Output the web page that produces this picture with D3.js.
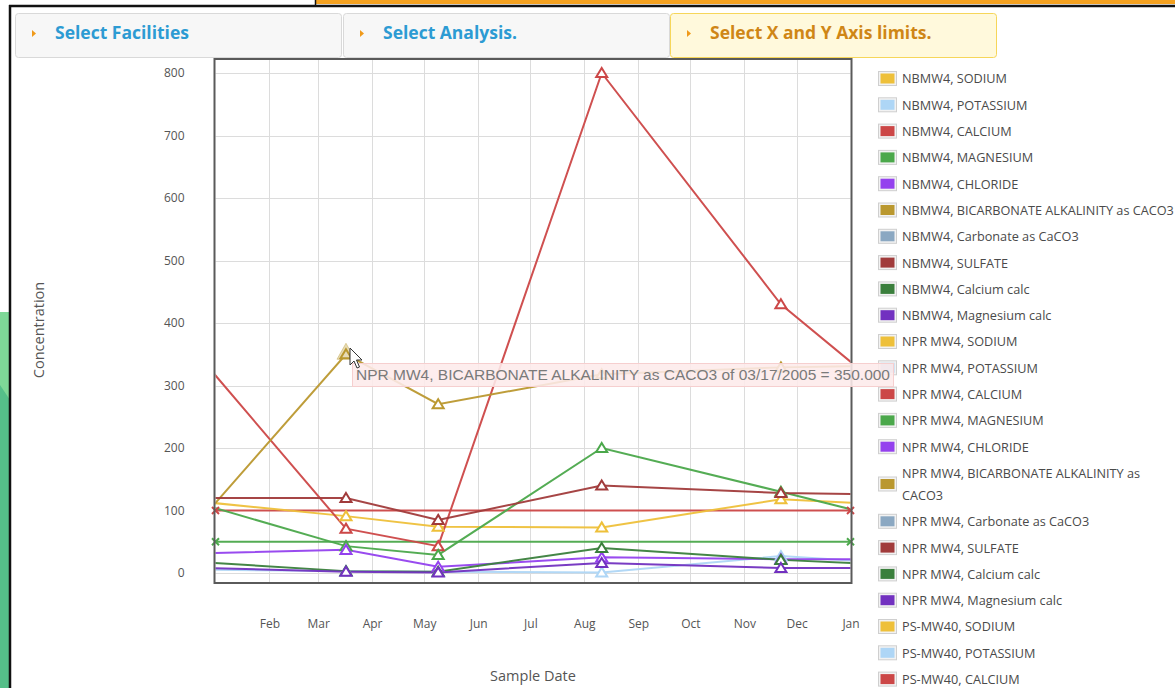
<!DOCTYPE html>
<html>
<head>
<meta charset="utf-8">
<script src="https://cdn.jsdelivr.net/npm/d3@7/dist/d3.min.js"></script>
<style>
  html, body { margin: 0; padding: 0; background: #fff; overflow: hidden; }
  svg { display: block; }
</style>
</head>
<body>
<svg id="chart" width="1175" height="688"></svg>
<script>
// ---------------- DATA ----------------
const tabLabels = ["Select Facilities", "Select Analysis.", "Select X and Y Axis limits."];
const yTickValues = [0, 100, 200, 300, 400, 500, 600, 700, 800];
const xTickLabels = ["Feb", "Mar", "Apr", "May", "Jun", "Jul", "Aug", "Sep", "Oct", "Nov", "Dec", "Jan"];
const xDomain = ["2005-01-01", "2006-01-01"];

// NPR MW4 sample dates (first and last samples lie outside the displayed window)
const sampleDates = ["2004-12-02", "2005-03-17", "2005-05-09", "2005-08-11", "2005-11-22", "2006-01-31"];
const nprSodium        = [120, 91, 74, 73, 118, 108];
const nprPotassium     = [6, 3, 2, 1, 27, 15];
const nprCalcium       = [414, 71, 43, 800, 430, 269];
const nprMagnesium     = [128, 43, 29, 200, 130, 81];
const nprChloride      = [30, 37, 10, 25, 22, 22];
const nprBicarbonate   = [17, 350, 270, 318, 329, 332];
const nprSulfate       = [120, 120, 85, 140, 128, 125];
const nprCalciumCalc   = [21, 3, 2, 40, 21, 12];
const nprMagnesiumCalc = [10, 2, 1, 16, 8, 8];

// NBMW4 values at the window edges
const edgeDates = ["2005-01-01", "2006-01-01"];
const nbmw4Calcium   = [100, 100];
const nbmw4Magnesium = [50, 50];

const legendLabels = [
  "NBMW4, SODIUM", "NBMW4, POTASSIUM", "NBMW4, CALCIUM", "NBMW4, MAGNESIUM", "NBMW4, CHLORIDE",
  "NBMW4, BICARBONATE ALKALINITY as CACO3", "NBMW4, Carbonate as CaCO3", "NBMW4, SULFATE",
  "NBMW4, Calcium calc", "NBMW4, Magnesium calc",
  "NPR MW4, SODIUM", "NPR MW4, POTASSIUM", "NPR MW4, CALCIUM", "NPR MW4, MAGNESIUM", "NPR MW4, CHLORIDE",
  "NPR MW4, BICARBONATE ALKALINITY as CACO3", "NPR MW4, Carbonate as CaCO3", "NPR MW4, SULFATE",
  "NPR MW4, Calcium calc", "NPR MW4, Magnesium calc",
  "PS-MW40, SODIUM", "PS-MW40, POTASSIUM", "PS-MW40, CALCIUM"
];
const analytePalette = ["#EEC03A", "#AED6F6", "#CC4747", "#4BA84B", "#9441EE",
                        "#BA982F", "#8BA8C2", "#A13B3B", "#3A7F3C", "#7231C0"];

const tooltipText = "NPR MW4, BICARBONATE ALKALINITY as CACO3 of 03/17/2005 = 350.000";

// ---------------- CHART ----------------
const svg = d3.select("#chart");
const parse = d3.timeParse("%Y-%m-%d");

// page decoration
svg.append("polygon").attr("points", "0,312 10,312 10,688 0,688").attr("fill", "#55BF89");
svg.append("polygon").attr("points", "0,312 10,312 10,400 0,385").attr("fill", "#7ED897");
svg.append("rect").attr("x", 315).attr("y", 0).attr("width", 860).attr("height", 4).attr("fill", "#F4A11F");
svg.append("line").attr("x1", 315.5).attr("x2", 315.5).attr("y1", 0).attr("y2", 7).attr("stroke", "#111").attr("stroke-width", 1.5);
svg.append("line").attr("x1", 9).attr("x2", 1175).attr("y1", 6).attr("y2", 6).attr("stroke", "#111").attr("stroke-width", 2.5);
svg.append("line").attr("x1", 10).attr("x2", 10).attr("y1", 5).attr("y2", 688).attr("stroke", "#111").attr("stroke-width", 2.5);

// tabs
const tabX = [15, 343, 670];
const tabW = 327;
tabLabels.forEach((t, i) => {
  const active = i === 2;
  const g = svg.append("g").attr("transform", `translate(${tabX[i]},13)`);
  g.append("rect").attr("x", 0.5).attr("y", 0.5).attr("width", tabW - 1).attr("height", 44)
    .attr("rx", 3).attr("fill", active ? "#FFF9DC" : "#F7F7F7")
    .attr("stroke", active ? "#F6D65A" : "#D9D9D9");
  g.append("path").attr("d", "M17,17 L21,20.5 L17,24 Z").attr("fill", "#F09A1A");
  g.append("text").attr("x", 40).attr("y", 26)
    .attr("font-family", "'Open Sans', 'Noto Sans', sans-serif").attr("font-weight", 700)
    .attr("font-size", "17.5px").attr("fill", active ? "#CF8616" : "#2C9BD3").text(t);
});

const plot = { left: 215.5, right: 850.5, top: 60, bottom: 582 };
const x = d3.scaleTime().domain(xDomain.map(parse)).range([plot.left, plot.right]);
const y = d3.scaleLinear().domain([-14.4, 820.8]).range([plot.bottom, plot.top]);

const monthTicks = d3.timeMonth.range(parse("2005-02-01"), parse("2006-01-02"));

// grid
const grid = svg.append("g").attr("stroke", "#DCDCDC").attr("stroke-width", 1);
grid.selectAll(".hg").data(yTickValues).join("line")
  .attr("x1", plot.left).attr("x2", plot.right)
  .attr("y1", d => Math.round(y(d)) + 0.5).attr("y2", d => Math.round(y(d)) + 0.5);
grid.selectAll(".vg").data(monthTicks).join("line")
  .attr("x1", d => Math.round(x(d)) + 0.5).attr("x2", d => Math.round(x(d)) + 0.5)
  .attr("y1", plot.top).attr("y2", plot.bottom);

// axes
const tickFont = "'Open Sans', 'Noto Sans', sans-serif";
const yAxis = svg.append("g").attr("transform", `translate(${plot.left},0)`)
  .call(d3.axisLeft(y).tickValues(yTickValues).tickSize(0).tickPadding(31));
const xAxis = svg.append("g").attr("transform", `translate(0,${plot.bottom})`)
  .call(d3.axisBottom(x).tickValues(monthTicks).tickSize(0).tickPadding(37)
    .tickFormat((d, i) => xTickLabels[i]));
[yAxis, xAxis].forEach(a => {
  a.select(".domain").remove();
  a.selectAll("text").attr("font-family", tickFont).attr("font-size", "12px").attr("fill", "#555");
});

svg.append("text").attr("transform", "translate(44,330) rotate(-90)")
  .attr("text-anchor", "middle").attr("font-family", tickFont).attr("font-size", "14.5px")
  .attr("fill", "#555").text("Concentration");
svg.append("text").attr("x", 533).attr("y", 681)
  .attr("text-anchor", "middle").attr("font-family", tickFont).attr("font-size", "14.5px")
  .attr("fill", "#555").text("Sample Date");

// series
const nprSeries = [nprSodium, nprPotassium, nprCalcium, nprMagnesium, nprChloride,
                   nprBicarbonate, null, nprSulfate, nprCalciumCalc, nprMagnesiumCalc];
const edgeSeries = [
  { values: nbmw4Calcium, color: analytePalette[2] },
  { values: nbmw4Magnesium, color: analytePalette[3] }
];

svg.append("clipPath").attr("id", "plotclip").append("rect")
  .attr("x", plot.left).attr("y", plot.top).attr("width", plot.right - plot.left).attr("height", plot.bottom - plot.top);

const line = d3.line().x(d => x(d.date)).y(d => y(d.value));
const linesG = svg.append("g").attr("clip-path", "url(#plotclip)");
const markG = svg.append("g");
const inDomain = d => d.date >= x.domain()[0] && d.date <= x.domain()[1];

edgeSeries.forEach(s => {
  const pts = edgeDates.map((d, i) => ({ date: parse(d), value: s.values[i] }));
  linesG.append("path").datum(pts).attr("d", line).attr("fill", "none")
    .attr("stroke", s.color).attr("stroke-width", 2).attr("stroke-opacity", 0.95);
  markG.selectAll(null).data(pts).join("path")
    .attr("transform", d => `translate(${x(d.date)},${y(d.value)})`)
    .attr("d", "M-3.5,-3.5 L3.5,3.5 M-3.5,3.5 L3.5,-3.5")
    .attr("stroke", s.color).attr("stroke-width", 2).attr("fill", "none");
});

const tri = "M0,-5 L5.5,4 L-5.5,4 Z";
nprSeries.forEach((vals, k) => {
  if (!vals) return;
  const color = analytePalette[k];
  const pts = sampleDates.map((d, i) => ({ date: parse(d), value: vals[i] }));
  linesG.append("path").datum(pts).attr("d", line).attr("fill", "none")
    .attr("stroke", color).attr("stroke-width", 2).attr("stroke-opacity", 0.95);
  markG.selectAll(null).data(pts.filter(inDomain)).join("path")
    .attr("transform", d => `translate(${x(d.date)},${y(d.value)})`)
    .attr("d", tri).attr("fill", "#fff").attr("stroke", color).attr("stroke-width", 2);
});

// hovered point highlight
const hov = { date: parse(sampleDates[1]), value: nprBicarbonate[1] };
svg.append("path").attr("transform", `translate(${x(hov.date)},${y(hov.value)})`)
  .attr("d", "M0,-11 L9,5 L-9,5 Z").attr("fill", analytePalette[5]).attr("fill-opacity", 0.35)
  .attr("stroke", analytePalette[5]).attr("stroke-opacity", 0.4);

// frame
svg.append("rect").attr("x", plot.left - 1).attr("y", plot.top - 1)
  .attr("width", plot.right - plot.left + 2).attr("height", plot.bottom - plot.top + 2)
  .attr("fill", "none").attr("stroke", "#5A5A5A").attr("stroke-width", 2);

// legend
const legendFont = "'Open Sans', 'Noto Sans', sans-serif";
const legendSize = "12.7px";
const legend = svg.append("g");
let ly = 79;
const maxW = 276;
legendLabels.forEach((lab, i) => {
  const color = analytePalette[i % 10];
  const t = legend.append("text").attr("x", 902).attr("font-family", legendFont)
    .attr("font-size", legendSize).attr("fill", "#4A4A4A");
  const words = lab.split(" ");
  const lines = [];
  let cur = "";
  const probe = legend.append("text").attr("font-family", legendFont).attr("font-size", legendSize);
  words.forEach(w => {
    const test = cur ? cur + " " + w : w;
    probe.text(test);
    if (probe.node().getComputedTextLength() > maxW && cur) { lines.push(cur); cur = w; }
    else cur = test;
  });
  lines.push(cur);
  probe.remove();
  lines.forEach((ln, j) => {
    t.append("tspan").attr("x", 902).attr("y", ly + j * 22).attr("dy", "0.35em").text(ln);
  });
  const cy = ly + (lines.length - 1) * 11;
  legend.append("rect").attr("x", 878.5).attr("y", cy - 7.5).attr("width", 18).attr("height", 14)
    .attr("fill", "#F2F2F2").attr("stroke", "#CFCFCF");
  legend.append("rect").attr("x", 880.5).attr("y", cy - 5.5).attr("width", 14).attr("height", 10)
    .attr("fill", color);
  ly += 26.3 + (lines.length - 1) * 22;
});

// tooltip
const tip = svg.append("g");
const tipRect = tip.append("rect").attr("x", 352.5).attr("y", 363.5).attr("height", 23)
  .attr("fill", "#FDEBEB").attr("fill-opacity", 0.88).attr("stroke", "#F6CFCF");
const tipText = tip.append("text").attr("x", 356).attr("y", 380)
  .attr("font-family", "'Liberation Sans', Arial, sans-serif").attr("font-size", "15.5px")
  .attr("fill", "#7A7A7A").text(tooltipText);
tipRect.attr("width", tipText.node().getComputedTextLength() + 7);

// mouse cursor
svg.append("path")
  .attr("d", "M350,348 L350,365 L354,361 L357,368 L359.5,367 L356.5,360 L362,360 Z")
  .attr("fill", "#fff").attr("stroke", "#333").attr("stroke-width", 1).attr("stroke-linejoin", "round");
</script>
</body>
</html>
